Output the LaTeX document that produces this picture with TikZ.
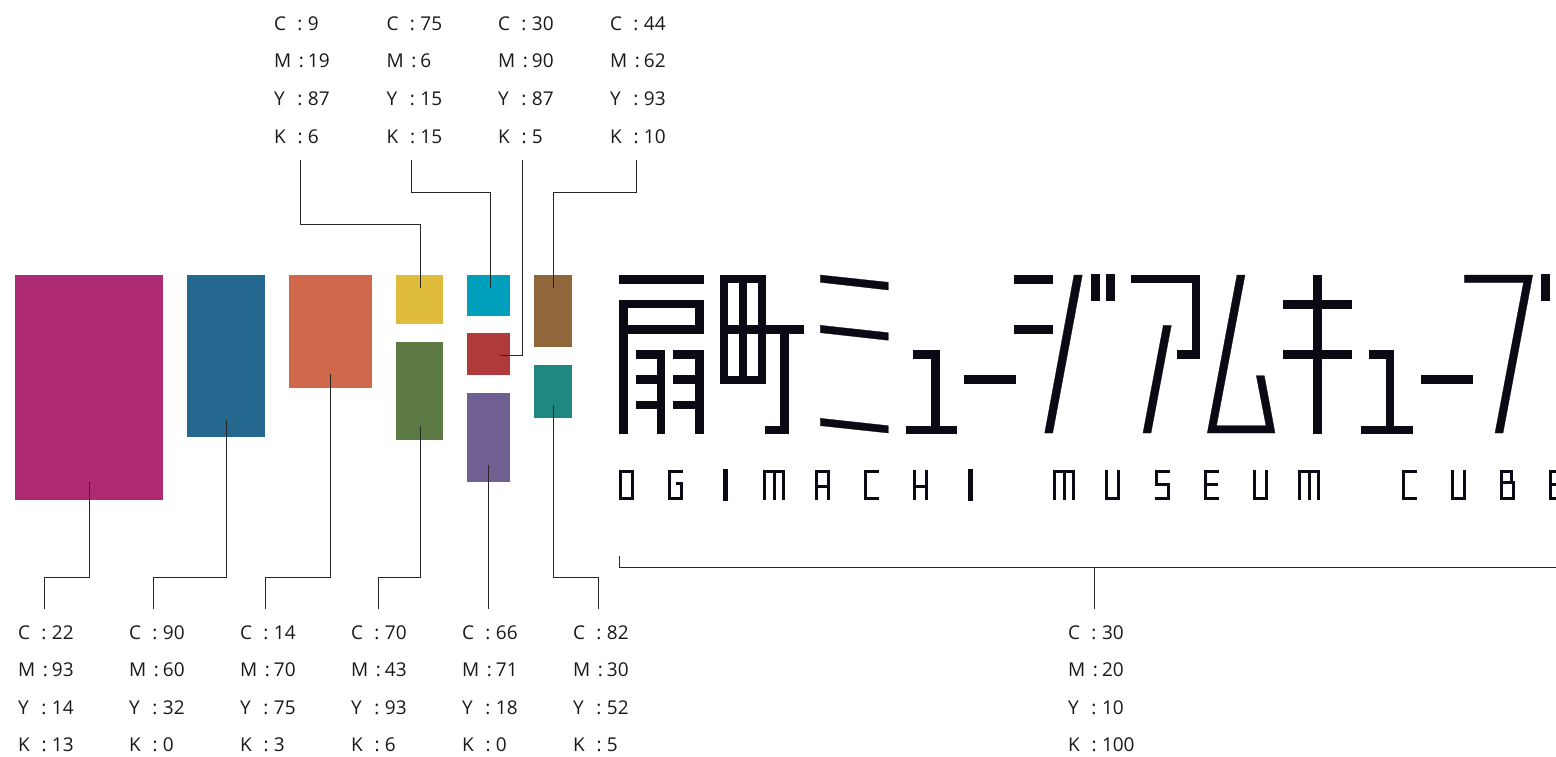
\documentclass[tikz,border=0pt]{standalone}
\usepackage{fontspec}
\setmainfont{Open Sans}
\definecolor{ink}{HTML}{0A0A14}
\definecolor{cMag}{HTML}{AE2B73}
\definecolor{cBlu}{HTML}{24688F}
\definecolor{cOra}{HTML}{D0694C}
\definecolor{cYel}{HTML}{E0BC3C}
\definecolor{cCya}{HTML}{009FBB}
\definecolor{cRed}{HTML}{B03A3A}
\definecolor{cGrn}{HTML}{5E7A44}
\definecolor{cPur}{HTML}{705F92}
\definecolor{cBro}{HTML}{90663A}
\definecolor{cTea}{HTML}{1F8880}
\tikzset{
  swatch/.style={rectangle,draw=none,inner sep=0pt,outer sep=0pt},
  leader/.style={draw=black!85,line width=0.8pt},
  cmyk/.style={anchor=base west,inner sep=0pt,outer sep=0pt,text=black!90,font=\fontsize{19}{21}\selectfont},
  logo/.style={fill=ink,draw=ink,line width=0.3pt},
  glyph/.style={draw=ink,line width=3pt,line cap=butt,line join=miter},
}
% one CMYK line: letter, colon tab, digits
\newcommand{\cmline}[3]{\makebox[#2pt][l]{#1}\makebox[\dimexpr34pt-#2pt\relax][l]{:}#3}
\newcommand{\cmcol}[7]{% name, x, first baseline, c,m,y,k
  \node[cmyk] (#1c) at (#2,#3) {\cmline{C}{23.5}{#4}};
  \node[cmyk] (#1m) at (#2,#3+37.6) {\cmline{M}{25}{#5}};
  \node[cmyk] (#1y) at (#2,#3+75.2) {\cmline{Y}{23.5}{#6}};
  \node[cmyk] (#1k) at (#2,#3+112.8) {\cmline{K}{23.5}{#7}};
}
\newcommand{\swatchbox}[6]{% name x1 y1 w h colour
  \node[swatch,fill=#6,minimum width=#4pt,minimum height=#5pt,anchor=north west] (#1) at (#2,#3) {};
}
\newcommand{\elbow}[3]{\draw[leader] (#1) -- (#1 |- 0,#2) -- (#3 |- 0,#2) -- (#3);}
% Latin letters of the logotype: local box 15 x 30.5, origin set by the caller's scope
\newcommand{\lgO}{\draw[glyph] (1.5,1.5) rectangle (13.5,29);}
\newcommand{\lgG}{\draw[glyph] (15,1.5) -- (1.5,1.5) -- (1.5,29) -- (13.5,29) -- (13.5,14) -- (7.3,14);}
\newcommand{\lgI}{\fill[logo] (0,0) rectangle (4,30.5);}
\newcommand{\lgM}{\draw[glyph] (1.5,30.5) -- (1.5,1.5) -- (20.5,1.5) -- (20.5,30.5) (11,1.5) -- (11,30.5);}
\newcommand{\lgA}{\draw[glyph] (1.5,30.5) -- (1.5,1.5) -- (13.5,1.5) -- (13.5,30.5) (1.5,17) -- (13.5,17);}
\newcommand{\lgC}{\draw[glyph] (15,1.5) -- (1.5,1.5) -- (1.5,29) -- (15,29);}
\newcommand{\lgH}{\draw[glyph] (1.5,0) -- (1.5,30.5) (13.5,0) -- (13.5,30.5) (1.5,17) -- (13.5,17);}
\newcommand{\lgU}{\draw[glyph] (1.5,0) -- (1.5,29) -- (13.5,29) -- (13.5,0);}
\newcommand{\lgS}{\draw[glyph] (15,1.5) -- (1.5,1.5) -- (1.5,15) -- (13.5,15) -- (13.5,29) -- (0,29);}
\newcommand{\lgE}{\draw[glyph] (15,1.5) -- (1.5,1.5) -- (1.5,29) -- (15,29) (1.5,15) -- (14,15);}
\newcommand{\lgB}{\draw[glyph] (1.5,1.5) rectangle (11.5,13) (1.5,13) rectangle (13.5,29);}
\begin{document}
\begin{tikzpicture}[x=1pt,y=-1pt]
\useasboundingbox (0,0) rectangle (1556,756);
\fill[white] (0,0) rectangle (1556,756);
% swatches
\swatchbox{mag}{15}{275}{148}{225}{cMag}
\swatchbox{blu}{187}{275}{78}{162}{cBlu}
\swatchbox{ora}{289}{275}{83}{113}{cOra}
\swatchbox{yel}{396}{275}{47}{49}{cYel}
\swatchbox{grn}{396}{342}{47}{98}{cGrn}
\swatchbox{cya}{467}{275}{43}{41}{cCya}
\swatchbox{red}{467}{333}{43}{42}{cRed}
\swatchbox{pur}{467}{393}{43}{89}{cPur}
\swatchbox{bro}{534}{275}{38}{72}{cBro}
\swatchbox{tea}{534}{365}{38}{53}{cTea}
% labels
\cmcol{ta}{274}{30.2}{9}{19}{87}{6}
\cmcol{tb}{386.5}{30.2}{75}{6}{15}{15}
\cmcol{tc}{498}{30.2}{30}{90}{87}{5}
\cmcol{td}{610}{30.2}{44}{62}{93}{10}
\cmcol{ba}{18}{639}{22}{93}{14}{13}
\cmcol{bb}{129}{639}{90}{60}{32}{0}
\cmcol{bc}{240}{639}{14}{70}{75}{3}
\cmcol{bd}{351}{639}{70}{43}{93}{6}
\cmcol{be}{462}{639}{66}{71}{18}{0}
\cmcol{bf}{573}{639}{82}{30}{52}{5}
\cmcol{bg}{1068}{639}{30}{20}{10}{100}
% connector ends
\coordinate (fta) at (300.5,160); \coordinate (tipyel) at (420,288);
\coordinate (ftb) at (411.5,160); \coordinate (tipcya) at (490,288);
\coordinate (ftc) at (522.5,160); \coordinate (tipred) at (500,355);
\coordinate (ftd) at (636,160);   \coordinate (tipbro) at (553,288);
\coordinate (fba) at (44,609);    \coordinate (tipmag) at (89.7,482);
\coordinate (fbb) at (153,609);   \coordinate (tipblu) at (226.7,420);
\coordinate (fbc) at (265,609);   \coordinate (tipora) at (330.5,374);
\coordinate (fbd) at (378,609);   \coordinate (tipgrn) at (420,426);
\coordinate (fbe) at (488,609);   \coordinate (tippur) at (488,465);
\coordinate (fbf) at (598.5,609); \coordinate (tiptea) at (553,405);
\coordinate (fbg) at (1094.5,609);\coordinate (brL) at (619,556);
\coordinate (brR) at (1556,567);  \coordinate (brM) at (1094.5,567);
% connectors
\elbow{fta}{224}{tipyel}
\elbow{ftb}{192}{tipcya}
\draw[leader] (ftc) |- (tipred);
\elbow{ftd}{192}{tipbro}
\elbow{fba}{577}{tipmag}
\elbow{fbb}{577}{tipblu}
\elbow{fbc}{577}{tipora}
\elbow{fbd}{577}{tipgrn}
\draw[leader] (fbe) -- (tippur);
\elbow{fbf}{577}{tiptea}
\draw[leader] (brL) |- (brR);
\draw[leader] (fbg) -- (brM);
% logotype: kanji 1
\fill[logo] (619,275) rectangle (703,283);
\fill[logo] (619,300) rectangle (702.7,307.5);
\fill[logo] (619,325.3) rectangle (702.7,332.7);
\fill[logo] (695,300) rectangle (702.7,332.7);
\fill[logo] (619,300) rectangle (627,433);
\fill[logo] (635.7,350) rectangle (664.3,357.7);
\fill[logo] (635.7,375.5) rectangle (664.3,383);
\fill[logo] (635.7,400.7) rectangle (664.3,408);
\fill[logo] (657,350) rectangle (664.3,433);
\fill[logo] (673.3,350) rectangle (702.7,357.7);
\fill[logo] (673.3,375.5) rectangle (702.7,383);
\fill[logo] (673.3,400.7) rectangle (702.7,408);
\fill[logo] (695,350) rectangle (702.7,433);
% kanji 2
\fill[logo] (719.7,275) rectangle (765,282.3);
\fill[logo] (719.7,375.7) rectangle (765,383);
\fill[logo] (719.7,275) rectangle (727,383);
\fill[logo] (757.7,275) rectangle (765,383);
\fill[logo] (739,275) rectangle (746,383);
\fill[logo] (719.7,325.3) rectangle (802.7,332.7);
\fill[logo] (780,325.3) rectangle (787.7,433);
\fill[logo] (765,425.7) rectangle (787.7,433);
% mi
\fill[logo] (820.3,275) -- (888.3,282.3) -- (888.3,290) -- (820.3,282.3) -- cycle;
\fill[logo] (820.3,325.3) -- (888.3,332.7) -- (888.3,340.3) -- (820.3,332.7) -- cycle;
\fill[logo] (820.3,418.3) -- (888.3,425.7) -- (888.3,433) -- (820.3,425.7) -- cycle;
% yu
\fill[logo] (913.3,350) rectangle (938.7,357.7);
\fill[logo] (931.3,350) rectangle (938.7,433);
\fill[logo] (906,425.7) rectangle (956,433);
% bar
\fill[logo] (964,375) rectangle (1015,383);
% ji
\fill[logo] (1014,275) rectangle (1052,283);
\fill[logo] (1014,325.3) rectangle (1052,332.7);
\fill[logo] (1074,275) -- (1082.3,275) -- (1052.7,433) -- (1044.7,433) -- cycle;
\fill[logo] (1091,274) rectangle (1099,300);
\fill[logo] (1106,274) rectangle (1114,300);
% a
\fill[logo] (1131.3,275) rectangle (1199.3,282.5);
\fill[logo] (1191.7,275) rectangle (1199.3,357.7);
\fill[logo] (1176.7,350) rectangle (1199.3,357.7);
\fill[logo] (1163.3,325.3) -- (1171.3,325.3) -- (1151,433) -- (1143,433) -- cycle;
% mu
\fill[logo] (1237,275) -- (1245,275) -- (1216.5,425.7) -- (1266,425.7) -- (1256.3,375.7) -- (1264.3,375.7) -- (1275,433) -- (1207.3,433) -- cycle;
% ki
\fill[logo] (1313,275) rectangle (1320.7,433);
\fill[logo] (1283,300) rectangle (1351,307.7);
\fill[logo] (1283,350) rectangle (1351,357.7);
% yu
\fill[logo] (1368.7,350) rectangle (1393.3,357.7);
\fill[logo] (1386,350) rectangle (1393.3,433);
\fill[logo] (1361,425.7) rectangle (1411.7,433);
% bar
\fill[logo] (1421,375) rectangle (1472,383);
% bu
\fill[logo] (1464.3,275) -- (1532.7,275) -- (1503,433) -- (1495,433) -- (1523.5,282.5) -- (1464.3,282.5) -- cycle;
\fill[logo] (1541,274) rectangle (1549.3,300);
% Latin line
\begin{scope}
\clip (0,0) rectangle (1556,756);
\foreach \px/\cmdn in {619/lgO,668.3/lgG,723.3/lgI,763.3/lgM,815/lgA,864/lgC,913/lgH,968/lgI,1053.3/lgM,1105/lgU,1154.7/lgS,1204/lgE,1252.7/lgU,1298.3/lgM,1401.7/lgC,1451/lgU,1500/lgB,1549.3/lgE}{
  \begin{scope}[shift={(\px,469.5)}]
  \csname \cmdn\endcsname
  \end{scope}
}
\end{scope}
\end{tikzpicture}
\end{document}
